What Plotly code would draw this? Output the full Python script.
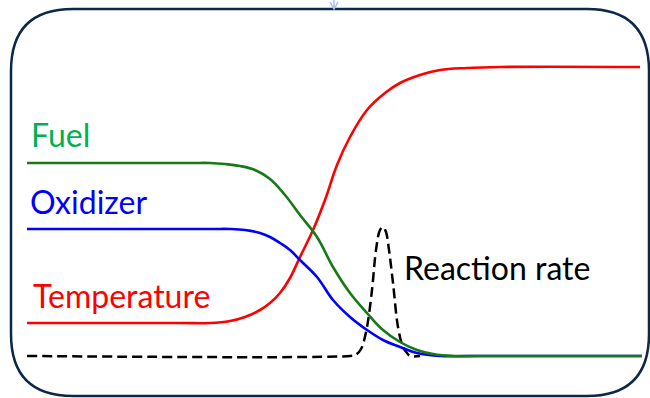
import plotly.graph_objects as go

# Schematic curves, read in picture pixel coordinates (y grows downward)
temp_x = [27, 180, 210, 230, 245, 260, 270, 280, 290, 300, 313, 325, 337, 350, 367, 385, 400, 420, 440, 467, 500, 640]
temp_y = [323, 323, 323, 321, 317, 310, 303, 293, 278, 257, 230, 200, 165, 137, 110, 93, 83, 75, 70, 68, 67, 67]

fuel_x = [27, 190, 210, 225, 240, 255, 270, 285, 300, 317, 333, 350, 367, 383, 400, 417, 433, 455, 480, 642]
fuel_y = [163, 163, 163, 164, 166, 170, 179, 195, 215, 237, 267, 293, 313, 330, 342, 350, 354, 356, 356, 356]

oxid_x = [27, 210, 230, 245, 260, 270, 280, 290, 300, 317, 333, 350, 367, 383, 400, 417, 440, 470, 642]
oxid_y = [229, 229, 229, 230, 233, 237, 243, 250, 260, 277, 300, 317, 330, 340, 347, 353, 356, 356, 356]

rate_x = [27, 350, 355, 359, 362, 367, 372, 376, 380, 383, 386, 389, 393, 398, 403, 407, 410, 420]
rate_y = [356, 356, 355, 352, 347, 327, 290, 250, 230, 227, 232, 250, 283, 327, 347, 353, 356, 356]

labels = ["Fuel", "Oxidizer", "Temperature", "Reaction rate"]
label_x = [29, 28, 31, 402]
label_y = [134, 201, 295, 267]
label_colors = ["#00b050", "#0000ff", "#ff0000", "#000000"]

fig = go.Figure()

fig.add_trace(go.Scatter(x=rate_x, y=rate_y, mode="lines",
                         line=dict(color="black", width=2.5, dash="10px,5px", shape="spline", smoothing=1)))
fig.add_trace(go.Scatter(x=temp_x, y=temp_y, mode="lines",
                         line=dict(color="#ff0000", width=2.6, shape="spline", smoothing=1.1)))
fig.add_trace(go.Scatter(x=oxid_x, y=oxid_y, mode="lines",
                         line=dict(color="#0000ff", width=2.6, shape="spline", smoothing=1.1)))
fig.add_trace(go.Scatter(x=fuel_x, y=fuel_y, mode="lines",
                         line=dict(color="#177a17", width=2.6, shape="spline", smoothing=1.1)))

for t, x, y, c in zip(labels, label_x, label_y, label_colors):
    fig.add_annotation(x=x, y=y, xref="x", yref="y", text=t, showarrow=False,
                       xanchor="left", yanchor="middle",
                       font=dict(family="Lato", size=32, color=c))

# rounded frame
x0, x1, y0, y1, r = 11, 649, 9, 396, 62
path = (f"M {x0+r},{y0} L {x1-r},{y0} Q {x1},{y0} {x1},{y0+r} "
        f"L {x1},{y1-r} Q {x1},{y1} {x1-r},{y1} L {x0+r},{y1} "
        f"Q {x0},{y1} {x0},{y1-r} L {x0},{y0+r} Q {x0},{y0} {x0+r},{y0} Z")
fig.add_shape(type="path", path=path, xref="x", yref="y",
              line=dict(color="#0c2849", width=2.5), layer="below")
# small arrow artifact at top
fig.add_shape(type="path", path="M 330,2 L 334,9 L 338,2 M 334,0 L 334,9", xref="x", yref="y",
              line=dict(color="#a9bdf2", width=1.5))

fig.update_layout(
    width=650, height=398,
    margin=dict(l=0, r=0, t=0, b=0),
    paper_bgcolor="white", plot_bgcolor="white",
    showlegend=False,
    xaxis=dict(range=[0, 650], visible=False, fixedrange=True),
    yaxis=dict(range=[398, 0], visible=False, fixedrange=True),
)

fig.write_html("out.html", config={"displayModeBar": False},
               post_script="document.body.style.margin='0';document.body.style.overflow='hidden';")
